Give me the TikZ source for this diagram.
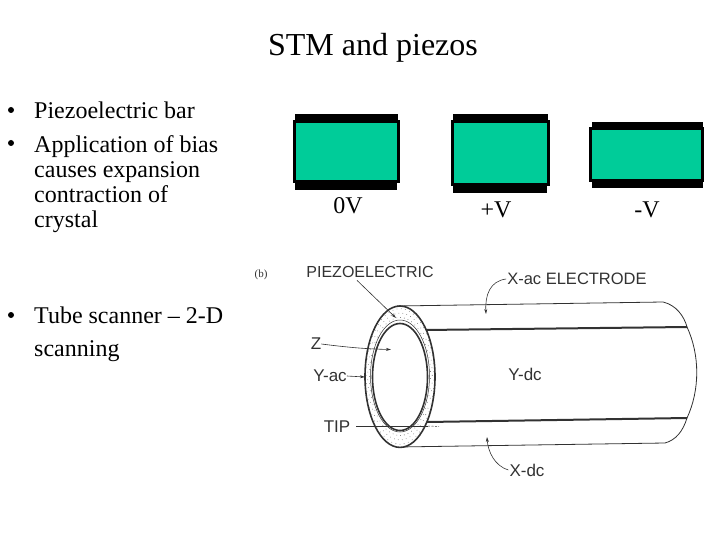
\documentclass[tikz,border=0pt]{standalone}
\usepackage{fontspec}
\setmainfont{Liberation Serif}
\newfontfamily\letterfont{Liberation Sans}
\usetikzlibrary{arrows.meta,positioning}
\definecolor{mygreen}{RGB}{0,204,153}
\definecolor{myink}{RGB}{50,50,50}
\begin{document}
\begin{tikzpicture}[x=1pt,y=-1pt,
  crystal/.style={rectangle,draw=black,line width=3pt,fill=mygreen,inner sep=0pt},
  electrode/.style={rectangle,fill=black,inner sep=0pt},
  bodytext/.style={align=left,anchor=north west,inner sep=0pt,font=\fontsize{24}{25}\selectfont},
  dotmark/.style={circle,fill=black,inner sep=0pt,minimum size=6pt},
  volt/.style={font=\fontsize{24}{25}\selectfont,inner sep=0pt},
  letter/.style={inner sep=0pt,text=myink,font=\letterfont\fontsize{17}{17}\selectfont},
  lead/.style={myink,line width=0.6pt,-{Stealth[length=5pt,width=3pt]}},
  wall/.style={myink,line width=0.8pt},
  band/.style={myink,line width=2pt}]
\useasboundingbox (0,0) rectangle (720,540);
\node[inner sep=0pt,font=\fontsize{32}{32}\selectfont] (title) at (373,48) {STM and piezos};
% bullets
\node[dotmark] (b1) at (11,110) {};
\node[bodytext] (t1) at (34,102) {Piezoelectric bar};
\node[dotmark] (b2) at (11,143) {};
\node[bodytext] (t2) at (34,135) {Application of bias\\causes expansion\\contraction of\\crystal};
\node[dotmark] (b3) at (11,315) {};
\node[bodytext,font=\fontsize{24}{33}\selectfont] (t3) at (34,307) {Tube scanner -- 2-D\\scanning};
% the three bars
\node[electrode,minimum width=103pt,minimum height=8pt] (top0) at (346.5,118) {};
\node[electrode,minimum width=102pt,minimum height=8pt] (bot0) at (346,186) {};
\node[crystal,minimum width=104pt,minimum height=60pt] (bar0) at (346,152) {};
\node[electrode,minimum width=95pt,minimum height=8pt] (topP) at (500.5,118) {};
\node[electrode,minimum width=94pt,minimum height=11pt] (botP) at (500,188) {};
\node[crystal,minimum width=96pt,minimum height=63pt] (barP) at (500.5,153) {};
\node[electrode,minimum width=111pt,minimum height=8pt] (topM) at (647.5,126) {};
\node[electrode,minimum width=111pt,minimum height=8pt] (botM) at (647,184) {};
\node[crystal,minimum width=112pt,minimum height=52pt] (barM) at (646,155) {};
\node[volt] (v0) at (348,206) {0V};
\node[volt] (vP) at (496,210) {+V};
\node[volt] (vM) at (647,210) {-V};
% tube
\coordinate (tt) at (397,306);
\coordinate (tb) at (398,447);
\draw[wall] (tt) -- (663,302) .. controls (676,305) and (684,316) .. (687,327)
  .. controls (700,355) and (700,390) .. (687,418)
  .. controls (683,431) and (676,440) .. (665,443) -- (tb);
\draw[band] (425,330) -- (687,327);
\draw[band] (427,422) -- (687,418);
\draw[wall,line width=1.6pt,fill=white] (400,376.7) ellipse (35 and 70.7);
\foreach \a in {0,7,...,353}
  \foreach \t in {0.2,0.5,0.8}
    \fill[myink!80] ({400+(29.5+\t*5.5)*cos(\a+\t*60)},{376.5+(56+\t*14.7)*sin(\a+\t*60)}) circle (0.4);
\draw[wall,line width=0.5pt] (400,376) ellipse (29.5 and 56);
\draw[wall,line width=1.6pt] (400,377) ellipse (27.5 and 53.5);
\node[inner sep=0pt,text=myink,font=\fontsize{11}{11}\selectfont] (tag) at (261,275) {(b)};
\node[letter,font=\letterfont\fontsize{16}{16}\selectfont] (piezo) at (370,271.5) {PIEZOELECTRIC};
\node[letter,font=\letterfont\fontsize{16.5}{17}\selectfont] (xac) at (577,279) {X-ac ELECTRODE};
\node[letter] (ydc) at (525,374) {Y-dc};
\node[letter] (xdc) at (527,470) {X-dc};
\node[letter] (zlab) at (316,344) {Z};
\node[letter] (yac) at (330,376) {Y-ac};
\node[letter] (tiplab) at (337,427) {TIP};
\coordinate (piezoend) at (396,318);
\coordinate (zend) at (391,349.5);
\coordinate (yacend) at (365,377);
\coordinate (tipend) at (428,426);
\coordinate (tipdash) at (439,426.5);
\coordinate (xacend) at (486,314);
\coordinate (xdcend) at (487,437);
\draw[lead] (piezo.south) ++(-13,3) -- (piezoend);
\draw[lead] (zlab.east) .. controls (345,347) and (365,349) .. (zend);
\draw[lead] (yac.east) -- (yacend);
\draw[wall,line width=0.7pt] (tiplab.east) ++(6,-1) -- (tipend);
\draw[wall,line width=0.5pt,dashed,dash pattern=on 2pt off 1.5pt] (tipend) -- (tipdash);
\draw[lead] (xac.west) ++(-1,0) .. controls (490,281) and (485,295) .. (xacend);
\draw[lead] (xdc.west) ++(-1,0) .. controls (495,466) and (488,452) .. (xdcend);
\end{tikzpicture}
\end{document}
